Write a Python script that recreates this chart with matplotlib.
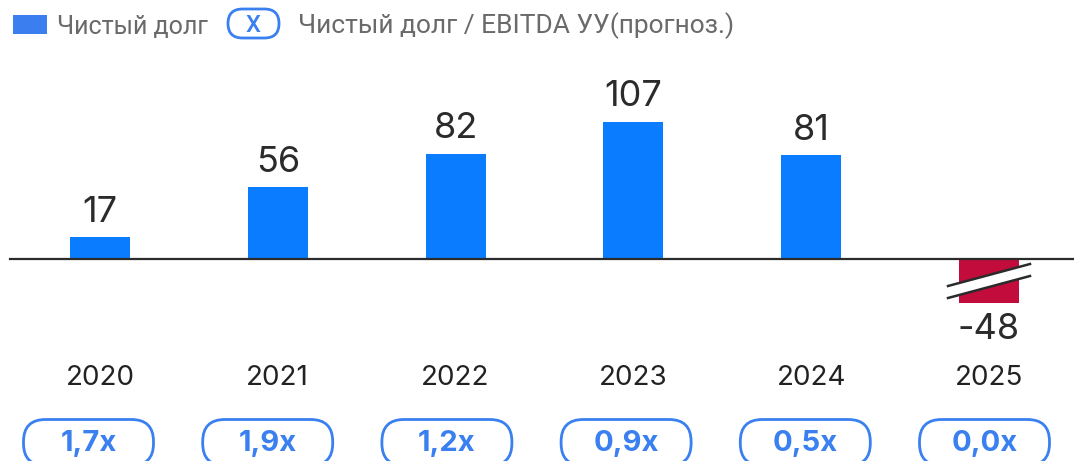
import matplotlib
matplotlib.use("Agg")
import matplotlib.pyplot as plt
from matplotlib.patches import FancyBboxPatch, Polygon

years = ["2020", "2021", "2022", "2023", "2024", "2025"]
net_debt = [17, 56, 82, 107, 81, -48]
ratio_labels = ["1,7x", "1,9x", "1,2x", "0,9x", "0,5x", "0,0x"]
legend_labels = ["Чистый долг", "Чистый долг / EBITDA УУ(прогноз.)"]

W, H = 1074, 461
fig = plt.figure(figsize=(W / 100, H / 100), dpi=100)
fig.patch.set_facecolor("white")

BLUE = "#0A7CFF"
RED = "#C20C3C"
PILL = "#3A80F0"
DARK = "#2B2B2B"

# main data axes: baseline at pixel 259, 1.285 px per unit, bars 177.8 px apart starting at 100
px_per_unit = 1.285
base_px = 259
ax = fig.add_axes([0, 0, 1, 1])
ax.set_xlim(-100 / 177.8, (W - 100) / 177.8)
ax.set_ylim(-(H - base_px) / px_per_unit, base_px / px_per_unit)
ax.axis("off")

x = list(range(len(years)))
break_depth = 34  # displayed depth of the broken negative bar
disp = [v if v >= 0 else -break_depth for v in net_debt]
colors = [BLUE if v >= 0 else RED for v in net_debt]
ax.bar(x, disp, width=60 / 177.8, color=colors, zorder=2)
ax.axhline(0, xmin=10 / W, xmax=1, color=DARK, lw=1.6, zorder=3)

for xi, v, d in zip(x, net_debt, disp):
    if v >= 0:
        ax.annotate(str(v), (xi, d), xytext=(0, 11), textcoords="offset points",
                    ha="center", va="baseline", fontsize=26, color=DARK,
                    family="Inter")
    else:
        ax.annotate(str(v), (xi, d), xytext=(0, -26.5), textcoords="offset points",
                    ha="center", va="baseline", fontsize=26, color=DARK,
                    family="Inter")
        # break marks
        u = 1 / 177.8
        xl, xr = xi - 41 * u, xi + 41 * u
        yt_l, yt_r = -(286 - base_px) / px_per_unit, -(264 - base_px) / px_per_unit
        yb_l, yb_r = -(298 - base_px) / px_per_unit, -(276 - base_px) / px_per_unit
        ax.add_patch(Polygon([(xl, yt_l), (xr, yt_r), (xr, yb_r), (xl, yb_l)],
                             closed=True, facecolor="white", edgecolor="none", zorder=4))
        ax.plot([xl, xr], [yt_l, yt_r], color=DARK, lw=1.8, zorder=5)
        ax.plot([xl, xr], [yb_l, yb_r], color=DARK, lw=1.8, zorder=5)

for xi, yr in zip(x, years):
    ax.text(xi, -(385 - base_px) / px_per_unit, yr, ha="center", va="baseline",
            fontsize=20, color="#222222", family="Inter")

# overlay in pixel coordinates for legend and pills
ov = fig.add_axes([0, 0, 1, 1], facecolor="none")
ov.set_xlim(0, W)
ov.set_ylim(H, 0)
ov.axis("off")

# legend
ov.add_patch(plt.Rectangle((13, 15), 34, 19, facecolor="#3A7EF0", edgecolor="none"))
ov.text(57, 33.5, legend_labels[0], ha="left", va="baseline", fontsize=18,
        color="#6A6A6A", family="Roboto")
ov.add_patch(FancyBboxPatch((228, 9), 51, 29, boxstyle="round,pad=0,rounding_size=14.5",
                            facecolor="white", edgecolor=PILL, lw=2.0))
ov.text(253.5, 32.5, "X", ha="center", va="baseline", fontsize=17, fontweight="medium",
        color=PILL, family="Roboto")
ov.text(298, 33.5, legend_labels[1], ha="left", va="baseline", fontsize=19,
        color="#6A6A6A", family="Roboto")

# ratio pills
for i, lab in enumerate(ratio_labels):
    cx = 88.5 + 179.2 * i
    ov.add_patch(FancyBboxPatch((cx - 65, 419.5), 130, 46,
                                boxstyle="round,pad=0,rounding_size=22",
                                facecolor="white", edgecolor=PILL, lw=2.0))
    ov.text(cx, 451, lab, ha="center", va="baseline", fontsize=21, fontweight="bold",
            color=PILL, family="Inter")

fig.savefig("out.png", dpi=100, facecolor="white")
